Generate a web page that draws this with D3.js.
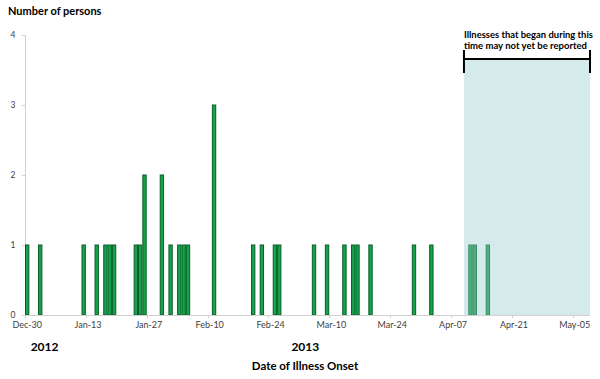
<!DOCTYPE html>
<html>
<head>
<meta charset="utf-8">
<script src="https://cdn.jsdelivr.net/npm/d3@7"></script>
<style>
  html, body { margin: 0; padding: 0; background: #fff; }
  svg { display: block; }
</style>
</head>
<body>
<svg id="chart" width="600" height="379"></svg>
<script>
// ---- data ----
const onsetDates = [
  "2012-12-30", "2013-01-02", "2013-01-12", "2013-01-15", "2013-01-17", "2013-01-18",
  "2013-01-19", "2013-01-24", "2013-01-25", "2013-01-26", "2013-01-30", "2013-02-01",
  "2013-02-03", "2013-02-04", "2013-02-05", "2013-02-11", "2013-02-20", "2013-02-22",
  "2013-02-25", "2013-02-26", "2013-03-06", "2013-03-09", "2013-03-13", "2013-03-15",
  "2013-03-16", "2013-03-19", "2013-03-29", "2013-04-02", "2013-04-11", "2013-04-12",
  "2013-04-15"
];
const persons = [
  1, 1, 1, 1, 1, 1,
  1, 1, 1, 2, 2, 1,
  1, 1, 1, 3, 1, 1,
  1, 1, 1, 1, 1, 1,
  1, 1, 1, 1, 1, 1,
  1
];
const axisStart = "2012-12-30";
const axisEnd = "2013-05-08";
const xTickDates = ["2012-12-30", "2013-01-13", "2013-01-27", "2013-02-10", "2013-02-24",
  "2013-03-10", "2013-03-24", "2013-04-07", "2013-04-21", "2013-05-05"];
const xTickLabels = ["Dec-30", "Jan-13", "Jan-27", "Feb-10", "Feb-24",
  "Mar-10", "Mar-24", "Apr-07", "Apr-21", "May-05"];
const yTicks = [0, 1, 2, 3, 4];
const reportingLagStart = "2013-04-10";
const reportingLagEnd = "2013-05-08";
const yearLabels = ["2012", "2013"];
const yearLabelDates = ["2013-01-03", "2013-03-04"];

// ---- layout ----
const svg = d3.select("#chart");
const font = "Lato, 'Open Sans', sans-serif";
const parse = d3.utcParse("%Y-%m-%d");
const fmt = d3.utcFormat("%Y-%m-%d");

const days = d3.utcDay.range(parse(axisStart), d3.utcDay.offset(parse(axisEnd), 1)).map(fmt);
const x = d3.scaleBand().domain(days).range([25, 590]).padding(0);
const y = d3.scaleLinear().domain([0, 4]).range([315, 35]);
const bw = x.bandwidth();

// y axis
svg.append("line").attr("x1", 25.5).attr("x2", 25.5).attr("y1", y(4)).attr("y2", y(0))
  .attr("stroke", "#d0d0d0").attr("stroke-width", 1);
yTicks.forEach(t => {
  svg.append("line").attr("x1", 22).attr("x2", 25.5)
    .attr("y1", Math.round(y(t)) + 0.5).attr("y2", Math.round(y(t)) + 0.5)
    .attr("stroke", "#d0d0d0");
  svg.append("text").attr("x", 13).attr("y", y(t) + 3)
    .attr("text-anchor", "middle").attr("font-family", font).attr("font-size", 8.5)
    .attr("fill", "#404040").text(t);
});

// bars
const data = onsetDates.map((d, i) => ({ date: d, v: persons[i] }));
svg.append("g").selectAll("rect").data(data).join("rect")
  .attr("x", d => x(d.date) + 0.5)
  .attr("y", d => y(d.v))
  .attr("width", bw - 1)
  .attr("height", d => y(0) - y(d.v))
  .attr("fill", "#14a24a")
  .attr("stroke", "#0b5e2a")
  .attr("stroke-width", 1);

// x axis
svg.append("line").attr("x1", 25).attr("x2", 590).attr("y1", 315.5).attr("y2", 315.5)
  .attr("stroke", "#d0d0d0");
xTickDates.forEach((d, i) => {
  const cx = x(d) + bw / 2;
  svg.append("line").attr("x1", Math.round(x(d)) + 0.5).attr("x2", Math.round(x(d)) + 0.5)
    .attr("y1", 315).attr("y2", 318).attr("stroke", "#d0d0d0");
  svg.append("text").attr("x", cx).attr("y", 328)
    .attr("text-anchor", "middle").attr("font-family", font).attr("font-size", 9)
    .attr("fill", "#404040").text(xTickLabels[i]);
});

// reporting-lag shading (overlay)
const sx0 = x(reportingLagStart), sx1 = x(reportingLagEnd) + bw;
svg.append("rect").attr("x", sx0).attr("y", 59).attr("width", sx1 - sx0).attr("height", y(0) - 59)
  .attr("fill", "rgb(150,206,206)").attr("fill-opacity", 0.4);

// bracket
const br = svg.append("g").attr("stroke", "#000").attr("stroke-width", 2);
br.append("line").attr("x1", sx0).attr("x2", sx1).attr("y1", 59).attr("y2", 59);
br.append("line").attr("x1", sx0).attr("x2", sx0).attr("y1", 50).attr("y2", 73);
br.append("line").attr("x1", sx1).attr("x2", sx1).attr("y1", 50).attr("y2", 73);

svg.append("text").attr("x", sx0).attr("y", 38).attr("font-family", font)
  .attr("font-weight", "bold").attr("font-size", 10).attr("fill", "#000")
  .attr("textLength", 129).attr("lengthAdjust", "spacingAndGlyphs")
  .text("Illnesses that began during this");
svg.append("text").attr("x", sx0).attr("y", 49).attr("font-family", font)
  .attr("font-weight", "bold").attr("font-size", 10).attr("fill", "#000")
  .attr("textLength", 123).attr("lengthAdjust", "spacingAndGlyphs")
  .text("time may not yet be reported");

// titles
svg.append("text").attr("x", 8).attr("y", 15).attr("font-family", font)
  .attr("font-weight", "bold").attr("font-size", 11).attr("fill", "#000")
  .text("Number of persons");

yearLabels.forEach((t, i) => {
  svg.append("text").attr("x", x(yearLabelDates[i]) + bw / 2).attr("y", 351)
    .attr("text-anchor", "middle").attr("font-family", font)
    .attr("font-weight", "bold").attr("font-size", 12).attr("fill", "#000").text(t);
});

svg.append("text").attr("x", 305).attr("y", 370).attr("text-anchor", "middle")
  .attr("font-family", font).attr("font-weight", "bold").attr("font-size", 11.5)
  .attr("fill", "#000").text("Date of Illness Onset");
</script>
</body>
</html>
